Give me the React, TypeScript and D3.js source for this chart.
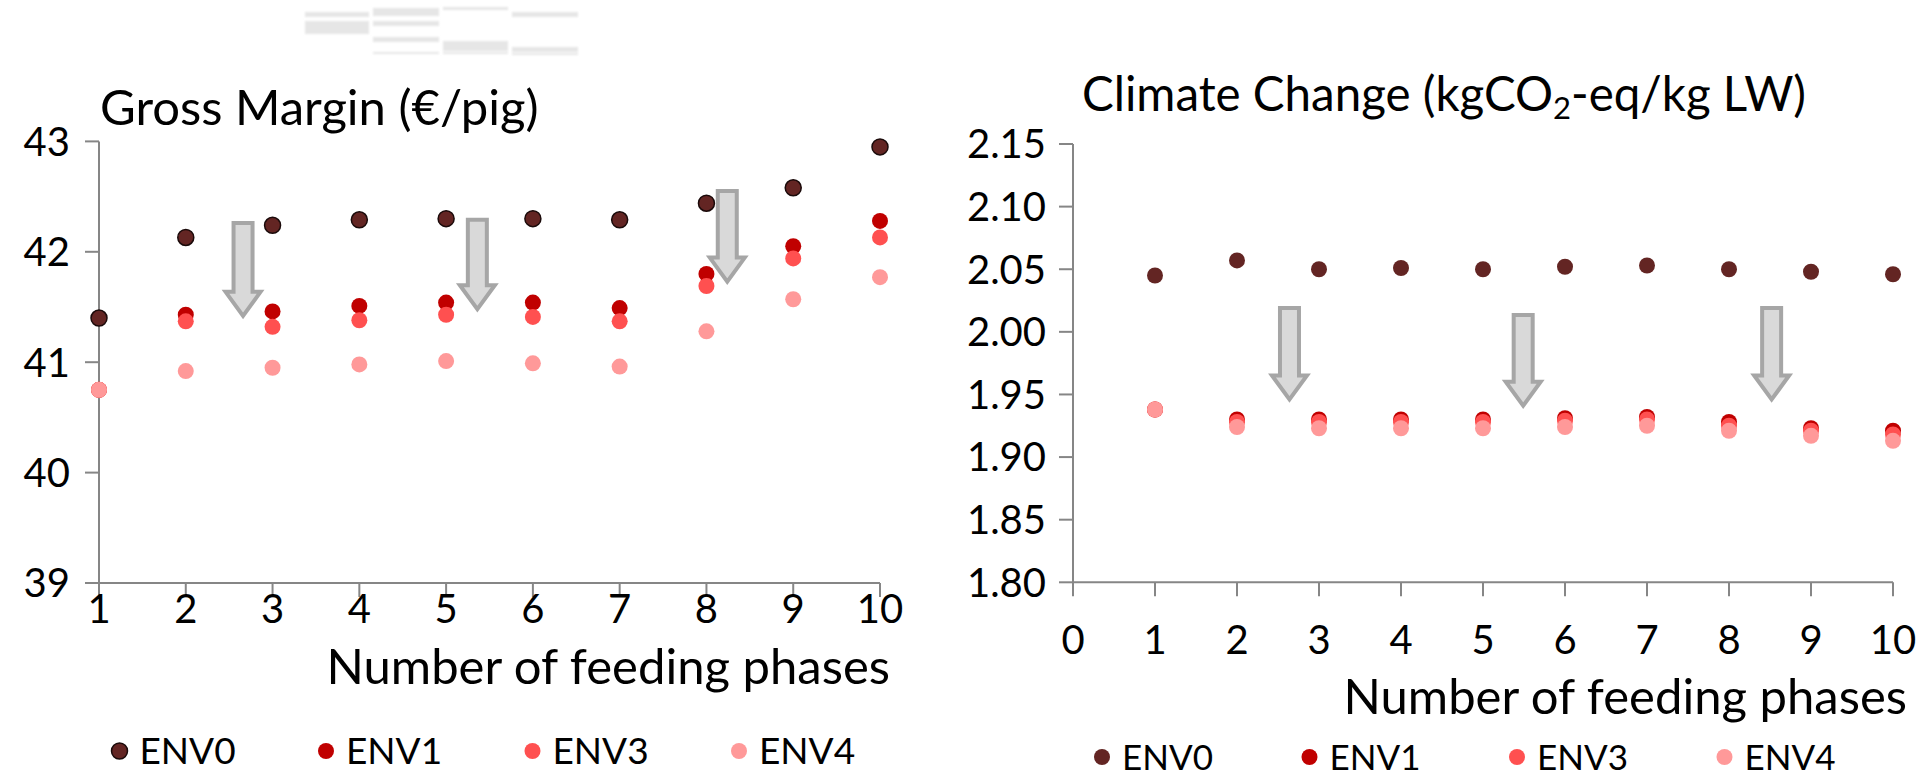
import React from "react";
import * as d3 from "d3";

const phases = [1, 2, 3, 4, 5, 6, 7, 8, 9, 10];
const seriesNames = ["ENV0", "ENV1", "ENV3", "ENV4"];
const seriesColors = ["#632523", "#c00000", "#ff5050", "#ff9999"];

// Gross Margin (€/pig)
const gmENV0 = [41.40, 42.13, 42.24, 42.29, 42.30, 42.30, 42.29, 42.44, 42.58, 42.95];
const gmENV1 = [40.75, 41.43, 41.46, 41.51, 41.54, 41.54, 41.49, 41.80, 42.05, 42.28];
const gmENV3 = [40.75, 41.37, 41.32, 41.38, 41.43, 41.41, 41.37, 41.69, 41.94, 42.13];
const gmENV4 = [40.75, 40.92, 40.95, 40.98, 41.01, 40.99, 40.96, 41.28, 41.57, 41.77];

// Climate change (kgCO2-eq/kg LW)
const ccENV0 = [2.045, 2.057, 2.050, 2.051, 2.050, 2.052, 2.053, 2.050, 2.048, 2.046];
const ccENV1 = [1.938, 1.930, 1.930, 1.930, 1.930, 1.931, 1.932, 1.928, 1.923, 1.921];
const ccENV3 = [1.938, 1.928, 1.928, 1.928, 1.928, 1.929, 1.930, 1.925, 1.921, 1.918];
const ccENV4 = [1.938, 1.924, 1.923, 1.923, 1.923, 1.924, 1.925, 1.921, 1.917, 1.913];

const gmYTicks = [39, 40, 41, 42, 43];
const gmXTicks = [1, 2, 3, 4, 5, 6, 7, 8, 9, 10];
const ccYTicks = [1.80, 1.85, 1.90, 1.95, 2.00, 2.05, 2.10, 2.15];
const ccXTicks = [0, 1, 2, 3, 4, 5, 6, 7, 8, 9, 10];

// block arrows (x, top value, tip value)
const gmArrows = [
  { x: 2.66, top: 42.26, tip: 41.42 },
  { x: 5.36, top: 42.29, tip: 41.48 },
  { x: 8.24, top: 42.55, tip: 41.73 },
];
const ccArrows = [
  { x: 2.64, top: 2.019, tip: 1.946 },
  { x: 5.49, top: 2.0134, tip: 1.941 },
  { x: 8.52, top: 2.019, tip: 1.946 },
];

// faint blurred artifact at top of image
const decor = [
  [305, 12, 64, 5], [305, 21, 64, 13],
  [373, 8, 66, 8], [373, 21, 66, 5], [373, 37, 66, 5], [373, 52, 66, 2],
  [443, 7, 65, 3], [443, 41, 65, 10], [443, 52, 65, 2],
  [512, 12, 66, 5], [512, 47, 66, 5], [512, 53, 66, 2],
];

const FONT = "Lato, 'Open Sans', sans-serif";
const AXIS = "#868686";

function arrowPath(cx: number, yTop: number, yTip: number) {
  const sw = 9.5, hw = 17.5, hl = 24;
  const yh = yTip - hl;
  return `M${cx - sw},${yTop} L${cx + sw},${yTop} L${cx + sw},${yh} L${cx + hw},${yh} L${cx},${yTip} L${cx - hw},${yh} L${cx - sw},${yh} Z`;
}

export default function App() {
  // Left chart scales
  const gx = d3.scaleLinear().domain([1, 10]).range([99, 880]);
  const gy = d3.scaleLinear().domain([39, 43]).range([583, 141.4]);
  // Right chart scales
  const cx = d3.scaleLinear().domain([0, 10]).range([1073, 1893]);
  const cy = d3.scaleLinear().domain([1.8, 2.15]).range([582.3, 144]);

  const gmSeries = [gmENV0, gmENV1, gmENV3, gmENV4];
  const ccSeries = [ccENV0, ccENV1, ccENV3, ccENV4];

  const tickFont = 40;

  return (
    <svg width={1932} height={779} style={{ position: "absolute", left: 0, top: 0, background: "#fff" }}>
      <defs>
        <filter id="blur" x="-10%" y="-50%" width="120%" height="200%">
          <feGaussianBlur stdDeviation="0.8" />
        </filter>
      </defs>
      <rect x={0} y={0} width={1932} height={779} fill="#fff" />
      <g filter="url(#blur)">
        {decor.map((d, i) => (
          <rect key={i} x={d[0]} y={d[1]} width={d[2]} height={d[3]} fill="#e6e6e6" />
        ))}
      </g>

      {/* ===== Left chart ===== */}
      <text x={100} y={125} fontFamily={FONT} fontSize={49} fill="#000">Gross Margin (€/pig)</text>
      {/* y axis */}
      <line x1={gx(1)} x2={gx(1)} y1={gy(43)} y2={gy(39)} stroke={AXIS} strokeWidth={2} />
      {gmYTicks.map((t) => (
        <g key={t}>
          <line x1={gx(1) - 14} x2={gx(1)} y1={gy(t)} y2={gy(t)} stroke={AXIS} strokeWidth={2} />
          <text x={gx(1) - 29} y={gy(t)} dy="0.36em" textAnchor="end" fontFamily={FONT} fontSize={tickFont}>{t}</text>
        </g>
      ))}
      {/* x axis */}
      <line x1={gx(1)} x2={gx(10)} y1={gy(39)} y2={gy(39)} stroke={AXIS} strokeWidth={2} />
      {gmXTicks.map((t) => (
        <g key={t}>
          <line x1={gx(t)} x2={gx(t)} y1={gy(39)} y2={gy(39) + 14} stroke={AXIS} strokeWidth={2} />
          <text x={gx(t)} y={609} dy="0.36em" textAnchor="middle" fontFamily={FONT} fontSize={tickFont}>{t}</text>
        </g>
      ))}
      <text x={890} y={684} textAnchor="end" fontFamily={FONT} fontSize={49}>Number of feeding phases</text>

      {gmArrows.map((a, i) => (
        <path key={i} d={arrowPath(gx(a.x), gy(a.top), gy(a.tip))} fill="#d9d9d9" stroke="#a6a6a6" strokeWidth={4} strokeLinejoin="miter" />
      ))}

      {gmSeries.map((s, si) => (
        <g key={si}>
          {s.map((v, i) => (
            <circle key={i} cx={gx(phases[i])} cy={gy(v)} r={8}
              fill={seriesColors[si]}
              stroke={si === 0 ? "#1a0a0a" : "none"} strokeWidth={si === 0 ? 1.5 : 0} />
          ))}
        </g>
      ))}

      {/* left legend */}
      {seriesNames.map((n, i) => {
        const lx = 119.5 + i * 206.5;
        return (
          <g key={n}>
            <circle cx={lx} cy={751} r={8} fill={seriesColors[i]} stroke={i === 0 ? "#1a0a0a" : "none"} strokeWidth={i === 0 ? 1.5 : 0} />
            <text x={lx + 20} y={751} dy="0.36em" fontFamily={FONT} fontSize={37}>{n}</text>
          </g>
        );
      })}

      {/* ===== Right chart ===== */}
      <text x={1082} y={111} fontFamily={FONT} fontSize={47.5} fill="#000">
        Climate Change (kgCO<tspan fontSize={31} dy={8}>2</tspan><tspan dy={-8}>-eq/kg LW)</tspan>
      </text>
      <line x1={cx(0)} x2={cx(0)} y1={cy(2.15)} y2={cy(1.8)} stroke={AXIS} strokeWidth={2} />
      {ccYTicks.map((t) => (
        <g key={t}>
          <line x1={cx(0) - 14} x2={cx(0)} y1={cy(t)} y2={cy(t)} stroke={AXIS} strokeWidth={2} />
          <text x={cx(0) - 27} y={cy(t)} dy="0.36em" textAnchor="end" fontFamily={FONT} fontSize={tickFont}>{t.toFixed(2)}</text>
        </g>
      ))}
      <line x1={cx(0)} x2={cx(10)} y1={cy(1.8)} y2={cy(1.8)} stroke={AXIS} strokeWidth={2} />
      {ccXTicks.map((t) => (
        <g key={t}>
          <line x1={cx(t)} x2={cx(t)} y1={cy(1.8)} y2={cy(1.8) + 14} stroke={AXIS} strokeWidth={2} />
          <text x={cx(t)} y={640} dy="0.36em" textAnchor="middle" fontFamily={FONT} fontSize={tickFont}>{t}</text>
        </g>
      ))}
      <text x={1907} y={714} textAnchor="end" fontFamily={FONT} fontSize={49}>Number of feeding phases</text>

      {ccArrows.map((a, i) => (
        <path key={i} d={arrowPath(cx(a.x), cy(a.top), cy(a.tip))} fill="#d9d9d9" stroke="#a6a6a6" strokeWidth={4} strokeLinejoin="miter" />
      ))}

      {ccSeries.map((s, si) => (
        <g key={si}>
          {s.map((v, i) => (
            <circle key={i} cx={cx(phases[i])} cy={cy(v)} r={8} fill={seriesColors[si]} />
          ))}
        </g>
      ))}

      {seriesNames.map((n, i) => {
        const lx = 1102 + i * 207.5;
        return (
          <g key={n}>
            <circle cx={lx} cy={757} r={8} fill={seriesColors[i]} />
            <text x={lx + 20} y={757} dy="0.36em" fontFamily={FONT} fontSize={35}>{n}</text>
          </g>
        );
      })}
    </svg>
  );
}
